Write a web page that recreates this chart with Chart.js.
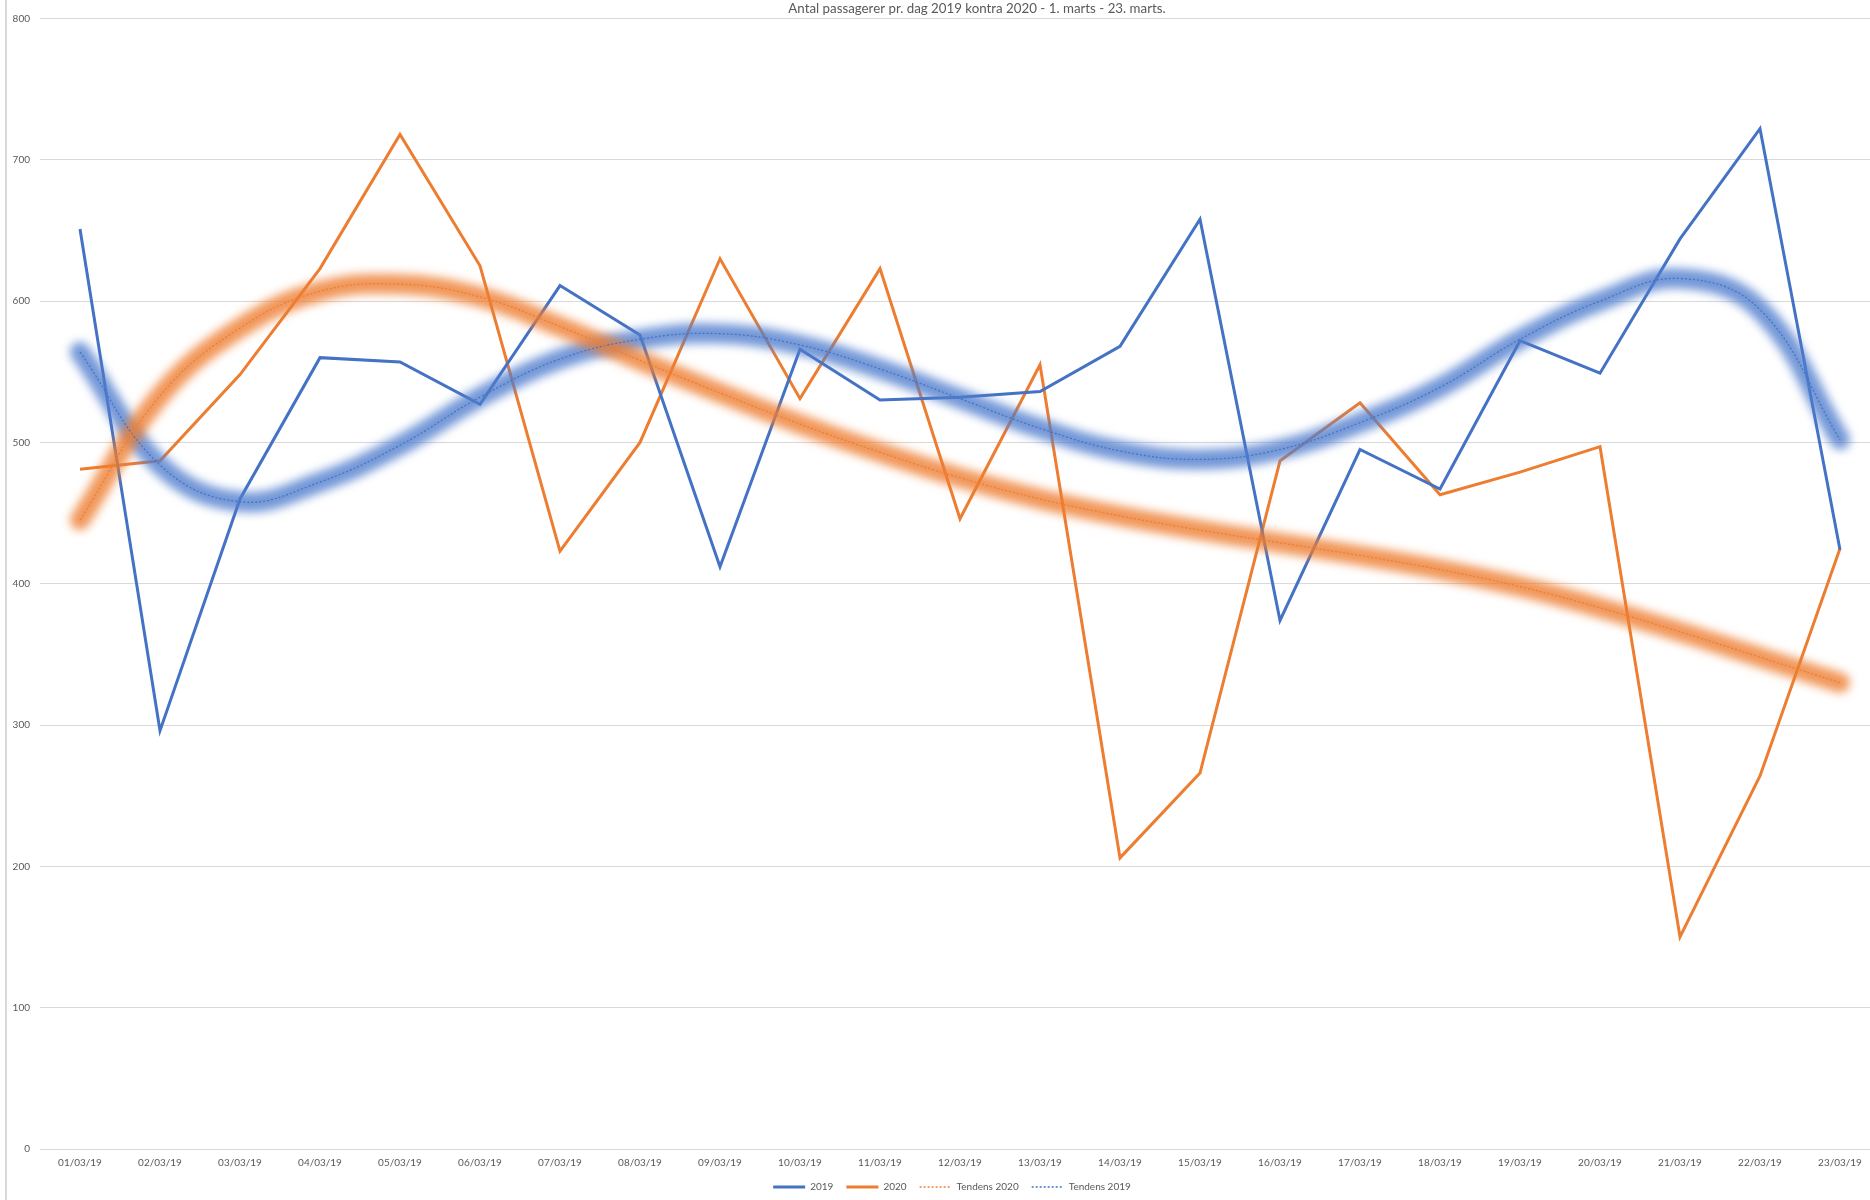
<!DOCTYPE html>
<html>
<head>
<meta charset="utf-8">
<script src="https://cdn.jsdelivr.net/npm/chart.js@4.4.1/dist/chart.umd.min.js"></script>
<style>
  html, body { margin: 0; padding: 0; background: #fff; overflow: hidden; }
  #wrap { position: relative; width: 1900px; height: 1202px; }
</style>
</head>
<body>
<div id="wrap"><canvas id="passengerChart" width="1900" height="1202"></canvas></div>
<script>
// dates on the x axis
const dayLabels = ['01/03/19', '02/03/19', '03/03/19', '04/03/19', '05/03/19', '06/03/19', '07/03/19', '08/03/19',
  '09/03/19', '10/03/19', '11/03/19', '12/03/19', '13/03/19', '14/03/19', '15/03/19', '16/03/19',
  '17/03/19', '18/03/19', '19/03/19', '20/03/19', '21/03/19', '22/03/19', '23/03/19'];

// passengers per day
const passengers2019 = [651, 296, 460, 560, 557, 527, 611, 576, 412, 566, 530, 532, 536, 568, 658, 374, 495, 467, 572, 549, 644, 722, 424];
const passengers2020 = [481, 487, 548, 623, 718, 625, 423, 500, 630, 531, 623, 446, 555, 206, 266, 487, 528, 463, 479, 497, 150, 264, 425];

// trendlines
const trend2019 = [564, 484, 458, 472, 498, 532, 559, 573, 577, 569, 552, 531, 510, 494, 488, 495, 514, 539, 573, 600, 616, 594, 502];
const trend2020 = [445, 533, 581, 607, 612, 603, 582, 558, 535, 513, 493, 475, 460, 448, 438, 429, 420, 410, 398, 383, 366, 348, 330];

const chartTitle = 'Antal passagerer pr. dag 2019 kontra 2020 - 1. marts - 23. marts.';

const blue = '#4472C4';
const orange = '#ED7D31';
const textColor = '#595959';
const gridColor = '#d9d9d9';
const fontFamily = 'Lato, "Open Sans", sans-serif';

// blurry band behind the trendlines
const glowPlugin = {
  id: 'glow',
  beforeDatasetDraw(chart, args) {
    if (chart.data.datasets[args.index].glow) {
      chart.ctx.save();
      chart.ctx.filter = 'blur(5px)';
    }
  },
  afterDatasetDraw(chart, args) {
    if (chart.data.datasets[args.index].glow) chart.ctx.restore();
  }
};

// left frame line + title, and nudge the legend a bit to the right
const framePlugin = {
  id: 'frame',
  afterLayout(chart) {
    chart.legend.left += 7;
    chart.legend.right += 7;
  },
  beforeDraw(chart) {
    const ctx = chart.ctx;
    ctx.save();
    ctx.fillStyle = gridColor;
    ctx.fillRect(5, 0, 2, chart.height);
    ctx.restore();
  },
  afterDraw(chart) {
    const ctx = chart.ctx;
    ctx.save();
    ctx.font = '13.3px ' + fontFamily;
    ctx.fillStyle = textColor;
    ctx.textAlign = 'center';
    ctx.textBaseline = 'middle';
    ctx.fillText(chartTitle, 977, 9);
    ctx.restore();
  }
};

const lineDefaults = { pointRadius: 0, pointHoverRadius: 0, fill: false };

new Chart(document.getElementById('passengerChart'), {
  type: 'line',
  data: {
    labels: dayLabels,
    datasets: [
      { ...lineDefaults, label: '2019', data: passengers2019, borderColor: blue, borderWidth: 3, tension: 0, order: 3 },
      { ...lineDefaults, label: '2020', data: passengers2020, borderColor: orange, borderWidth: 3, tension: 0, order: 3 },
      { ...lineDefaults, label: 'Tendens 2020', data: trend2020, borderColor: orange, borderWidth: 1.2, borderDash: [2, 2], tension: 0.4, order: 0 },
      { ...lineDefaults, label: 'Tendens 2019', data: trend2019, borderColor: blue, borderWidth: 1.2, borderDash: [2, 2], tension: 0.4, order: 0 },
      { ...lineDefaults, label: 'glow 2020', glow: true, data: trend2020, borderColor: 'rgba(237,125,49,0.8)', borderWidth: 20, borderCapStyle: 'round', tension: 0.4, order: 1 },
      { ...lineDefaults, label: 'glow 2019', glow: true, data: trend2019, borderColor: 'rgba(80,125,205,0.8)', borderWidth: 20, borderCapStyle: 'round', tension: 0.4, order: 1 }
    ]
  },
  options: {
    responsive: false,
    animation: false,
    events: [],
    layout: { padding: { left: 10, right: 20, top: 18.5, bottom: 0 } },
    scales: {
      x: {
        offset: true,
        grid: { display: false, drawTicks: false },
        border: { display: false },
        ticks: { color: textColor, font: { family: fontFamily, size: 10 }, padding: 7.5, autoSkip: false, maxRotation: 0 },
        afterFit: s => { s.height = 20; }
      },
      y: {
        min: 0,
        max: 800,
        grid: { color: gridColor, lineWidth: 1, drawTicks: false },
        border: { display: false },
        ticks: { stepSize: 100, color: textColor, font: { family: fontFamily, size: 10 }, padding: 10 },
        afterFit: s => { s.width = 30; }
      }
    },
    plugins: {
      title: { display: false },
      tooltip: { enabled: false },
      legend: {
        position: 'bottom',
        labels: {
          color: textColor,
          font: { family: fontFamily, size: 10 },
          usePointStyle: true,
          pointStyleWidth: 32,
          padding: 13,
          generateLabels: chart => chart.data.datasets
            .map((ds, i) => ({
              text: ds.label,
              datasetIndex: i,
              strokeStyle: ds.borderColor,
              fillStyle: ds.borderColor,
              fontColor: textColor,
              lineWidth: ds.borderDash ? 1.5 : 3,
              lineDash: ds.borderDash || [],
              pointStyle: 'line',
              hidden: false,
              glow: ds.glow
            }))
            .filter(item => !item.glow)
        }
      }
    }
  },
  plugins: [glowPlugin, framePlugin]
});
</script>
</body>
</html>
